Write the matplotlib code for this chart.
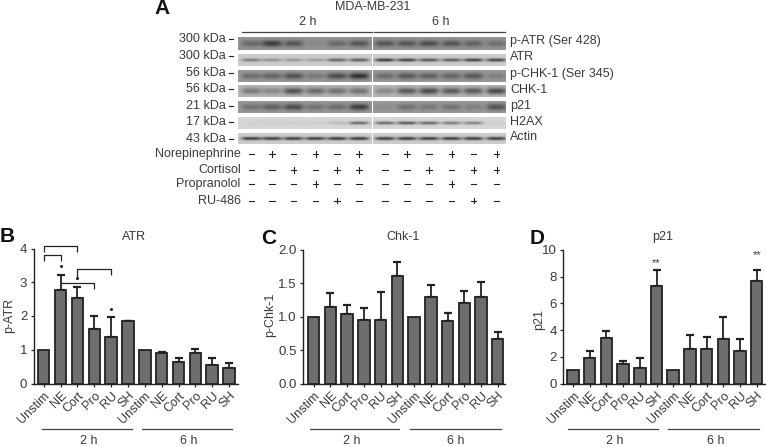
import numpy as np
import matplotlib
matplotlib.use("Agg")
import matplotlib.pyplot as plt

plt.rcParams['font.family'] = ['Liberation Sans', 'DejaVu Sans']

W, H = 766, 447
TXT = '#3a3a3a'
DARK = '#222222'
BAR = '#6e6e6e'

categories = ['Unstim', 'NE', 'Cort', 'Pro', 'RU', 'SH'] * 2

atr_vals = [1, 2.78, 2.53, 1.62, 1.38, 1.84, 1, 0.90, 0.63, 0.90, 0.55, 0.45]
atr_tops = [1, 3.22, 2.85, 2.00, 1.97, 1.86, 1, 0.92, 0.75, 1.02, 0.75, 0.60]
chk_vals = [1, 1.15, 1.04, 0.95, 0.95, 1.61, 1, 1.30, 0.93, 1.20, 1.29, 0.66]
chk_tops = [1, 1.35, 1.18, 1.13, 1.37, 1.82, 1, 1.47, 1.06, 1.38, 1.52, 0.77]
p21_vals = [1, 1.90, 3.40, 1.45, 1.15, 7.30, 1, 2.60, 2.60, 3.30, 2.40, 7.70]
p21_tops = [1, 2.40, 3.90, 1.70, 1.90, 8.50, 1, 3.65, 3.50, 4.95, 3.30, 8.50]

blot_names = ['p-ATR (Ser 428)', 'ATR', 'p-CHK-1 (Ser 345)', 'CHK-1', 'p21', 'H2AX', 'Actin']
blot_kda = ['300 kDa', '300 kDa', '56 kDa', '56 kDa', '21 kDa', '17 kDa', '43 kDa']
blot_bg = [0.58, 0.80, 0.60, 0.72, 0.60, 0.84, 0.80]
blot_bands = [
    [.35, .70, .50, .10, .35, .50, .50, .50, .55, .50, .40, .30],
    [.45, .35, .30, .25, .60, .65, .85, .80, .70, .65, .80, .80],
    [.35, .40, .55, .25, .60, .80, .35, .50, .45, .40, .50, .20],
    [.40, .30, .65, .50, .45, .45, .30, .60, .70, .60, .60, .70],
    [.30, .45, .60, .30, .35, .70, .10, .30, .25, .30, .20, .55],
    [.03, .03, .05, .05, .15, .60, .60, .70, .60, .50, .45, .03],
    [.85, .85, .85, .85, .85, .85, .85, .85, .85, .85, .85, .85],
]
treat_names = ['Norepinephrine', 'Cortisol', 'Propranolol', 'RU-486']
treat_signs = [
    '-+-+-+-+-+-+',
    '--+-++--+-++',
    '---+-----+--',
    '----+-----+-',
]

fig = plt.figure(figsize=(W / 100, H / 100), dpi=100)
ov = fig.add_axes([0, 0, 1, 1], zorder=5)
ov.set_xlim(0, W)
ov.set_ylim(H, 0)
ov.axis('off')
ov.patch.set_alpha(0)


def t(x, y, s, **k):
    k.setdefault('fontsize', 9)
    k.setdefault('color', TXT)
    k.setdefault('va', 'center')
    k.setdefault('ha', 'center')
    return ov.text(x, y, s, **k)


def panel(left, right, top, bottom, vals, tops, ymax, yticks, ylabels, xc0, dx):
    ax = fig.add_axes([left / W, 1 - bottom / H, (right - left) / W, (bottom - top) / H])
    ax.set_xlim((left - xc0) / dx, (right - xc0) / dx)
    ax.set_ylim(0, ymax)
    x = np.arange(len(vals))
    ax.bar(x, vals, width=11.5 / dx, color=BAR, edgecolor=DARK, linewidth=1.3, zorder=2)
    up = np.array(tops) - np.array(vals)
    mask = up > 0.0
    ax.errorbar(x[mask], np.array(vals)[mask], yerr=[np.zeros(mask.sum()), up[mask]], fmt='none',
                ecolor=DARK, elinewidth=1.3, capsize=2.6, capthick=1.6, zorder=1)
    for s in ('top', 'right'):
        ax.spines[s].set_visible(False)
    for s in ('left', 'bottom'):
        ax.spines[s].set_linewidth(1.0)
        ax.spines[s].set_color(DARK)
    ax.set_yticks(yticks)
    ax.set_yticklabels(ylabels, fontsize=9.5, color=TXT)
    ax.set_xticks(x)
    ax.set_xticklabels(categories, rotation=45, ha='right', rotation_mode='anchor', fontsize=9, color=TXT)
    ax.tick_params(axis='both', length=2.5, width=0.9, color=DARK, pad=2)
    ax.patch.set_alpha(0)
    return ax


axB = panel(33.5, 238, 248.5, 383.5, atr_vals, atr_tops, 4, [0, 1, 2, 3, 4], ['0', '1', '2', '3', '4'], 43.7, 16.85)
axC = panel(303, 505, 250, 383.5, chk_vals, chk_tops, 2, [0, .5, 1, 1.5, 2], ['0.0', '0.5', '1.0', '1.5', '2.0'], 313.7, 16.73)
axD = panel(563, 765.5, 250, 383.5, p21_vals, p21_tops, 10, [0, 2, 4, 6, 8, 10], ['0', '2', '4', '6', '8', '10'], 573, 16.7)


def bracket(ax, i0, i1, y, y0=None, y1=None):
    xs, ys = [], []
    if y0 is not None:
        xs.append(i0); ys.append(y0)
    xs += [i0, i1]; ys += [y, y]
    if y1 is not None:
        xs.append(i1); ys.append(y1)
    ax.plot(xs, ys, color=DARK, lw=0.9, clip_on=False, zorder=3, solid_capstyle='butt')


bracket(axB, 0, 2, 4.07, 3.90, 3.90)
bracket(axB, 0, 1, 3.81, 3.62, 3.62)
bracket(axB, 2, 4, 3.39, 3.16, 3.22)
bracket(axB, 1, 3, 2.98, None, 2.80)
axB.plot([1, 2, 4], [3.48, 3.14, 2.22], ls='none', marker='o', ms=1.2, color=DARK, clip_on=False)
axD.text(5, 9.0, '**', ha='center', va='center', fontsize=8, color=TXT)
axD.text(11, 9.6, '**', ha='center', va='center', fontsize=8, color=TXT)

# titles, y labels, panel letters
t(134, 237, 'ATR'); t(403, 237, 'Chk-1'); t(663, 237, 'p21')
t(9.5, 315, 'p-ATR', rotation=90)
t(270, 315, 'p-Chk-1', rotation=90)
t(539.5, 319, 'p21', rotation=90)
for x, y, s in [(7, 237, 'B'), (269, 238, 'C'), (537, 238, 'D'), (162.5, 8, 'A')]:
    t(x, y, s, fontsize=15, fontweight='bold', color='#111111')

# time group lines
for x0, x1, xt in [(41.7, 131.7, 89), (142, 232, 189), (310, 399, 352), (410, 500.5, 456), (567.5, 657.5, 615), (668, 758.5, 716)]:
    ov.plot([x0, x1], [429.3, 429.3], color='#444444', lw=0.9)
    t(xt, 440.5, '2 h' if x0 in (41.7, 310, 567.5) else '6 h')

# panel A: blots
rows = [(37.3, 50), (54.3, 66), (70, 82), (86, 97.3), (101.7, 113.3), (117.3, 129), (133.3, 144)]
lanes = [251.5, 272, 293.5, 315.5, 337, 359, 385, 407, 429, 451.5, 473.5, 496.5]
panels = [(238.3, 371.7, 0, 6), (373.3, 506, 6, 12)]
kda_y = [39, 55.7, 73, 89, 106, 122, 139]
name_y = [41, 57, 73.7, 90, 106, 122, 137]
sign_y = [154, 170, 184, 200.7]

for r, (y0, y1) in enumerate(rows):
    for xa, xb, l0, l1 in panels:
        xs = np.linspace(xa, xb, int((xb - xa) * 2))
        ys = np.linspace(y0, y1, 28)
        X, Y = np.meshgrid(xs, ys)
        img = np.full(X.shape, float(blot_bg[r]))
        yc = (y0 + y1) / 2
        sy = 1.6 + 1.6 * (r in (0, 2, 3, 4))
        for lane in range(l0, l1):
            a = blot_bands[r][lane]
            w = 10.0
            band = np.exp(-((X - lanes[lane]) / w) ** 4) * np.exp(-((Y - yc) / sy) ** 2)
            img -= a * band * blot_bg[r] * 0.85
        ov.imshow(img, extent=(xa, xb, y1, y0), cmap='gray', vmin=0, vmax=1, aspect='auto',
                  interpolation='bilinear', zorder=1)
    t(226, kda_y[r], blot_kda[r], ha='right')
    ov.plot([228.7, 233], [kda_y[r]] * 2, color=DARK, lw=0.8)
    t(510, name_y[r], blot_names[r], ha='left')

ov.set_xlim(0, W)
ov.set_ylim(H, 0)

for name, signs, y in zip(treat_names, treat_signs, sign_y):
    t(240.7, y, name, ha='right')
    for lane, s in enumerate(signs):
        x = lanes[lane]
        ov.plot([x - 2.7, x + 2.7], [y, y], color=DARK, lw=0.8)
        if s == '+':
            ov.plot([x, x], [y - 2.7, y + 2.7], color=DARK, lw=0.8)

ov.plot([241.7, 372.3], [32, 32], color='#444444', lw=0.9)
ov.plot([374, 505], [32, 32], color='#444444', lw=0.9)
t(307.7, 22, '2 h')
t(441, 22, '6 h')
t(372.7, 6.7, 'MDA-MB-231')

fig.savefig('out.png', dpi=100)
